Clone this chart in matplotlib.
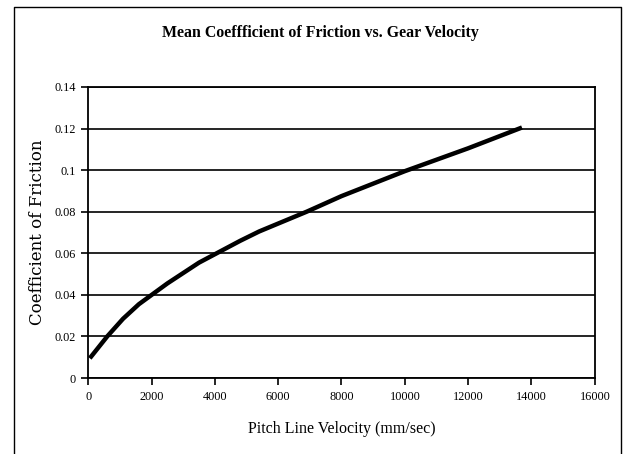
import matplotlib
matplotlib.use("Agg")
import matplotlib.pyplot as plt
from matplotlib.lines import Line2D

# pitch line velocity (mm/sec) and mean coefficient of friction
velocity = [50, 600, 1100, 1600, 2500, 3500, 4800, 5400, 6900, 8000, 10000, 12000, 13700]
friction = [0.0095, 0.020, 0.0285, 0.0355, 0.0455, 0.0555, 0.066, 0.0705, 0.080, 0.0875, 0.0995, 0.1105, 0.1205]

x_ticks = list(range(0, 16001, 2000))
y_ticks = [0, 0.02, 0.04, 0.06, 0.08, 0.1, 0.12, 0.14]
y_tick_labels = ["0", "0.02", "0.04", "0.06", "0.08", "0.1", "0.12", "0.14"]

plt.rcParams['font.family'] = ['Liberation Serif', 'DejaVu Serif']

fig = plt.figure(figsize=(6.23, 4.54), dpi=100)
ax = fig.add_axes([0.1416, 0.1674, 0.8131, 0.641])

ax.plot(velocity, friction, color='black', lw=3.2, solid_capstyle='butt', zorder=3)

ax.set_xlim(0, 16000)
ax.set_ylim(0, 0.14)
ax.set_xticks(x_ticks)
ax.set_xticklabels([str(t) for t in x_ticks])
ax.set_yticks(y_ticks)
ax.set_yticklabels(y_tick_labels)
ax.tick_params(axis='both', direction='out', length=5, width=1.2, colors='black', labelsize=8.8, pad=4)
ax.yaxis.grid(True, color='black', lw=1.2)
ax.set_axisbelow(True)
for s in ax.spines.values():
    s.set_linewidth(1.3)
    s.set_color('black')

ax.set_xlabel("Pitch Line Velocity (mm/sec)", fontsize=11.5, labelpad=13)
ax.set_ylabel("Coefficient of Friction", fontsize=12, labelpad=6,
              family=['DejaVu Serif'])
fig.text(0.514, 0.927, "Mean Coeffficient of Friction vs. Gear Velocity",
         ha='center', va='center', fontsize=11.4, fontweight='bold')

# outer chart frame (bottom edge is off the picture)
x0, x1, y1 = 14 / 623, 621 / 623, 1 - 7 / 454
fig.add_artist(Line2D([x0, x0, x1, x1], [0, y1, y1, 0], transform=fig.transFigure,
                      color='black', lw=1.0))

fig.savefig("out.png", dpi=100)
